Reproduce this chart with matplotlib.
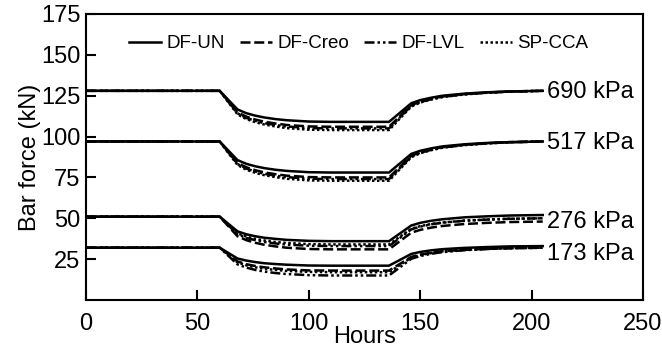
import matplotlib
matplotlib.use("Agg")
import matplotlib.pyplot as plt

plt.rcParams['font.family'] = ['Liberation Sans', 'DejaVu Sans']

hours = [0, 60, 64, 68, 72, 76, 80, 85, 90, 100, 110, 136, 141, 146, 150, 155, 160, 170, 180, 190, 205]

series_names = ["DF-UN", "DF-Creo", "DF-LVL", "SP-CCA"]
pressure_labels = ["690 kPa", "517 kPa", "276 kPa", "173 kPa"]

# 690 kPa
p690_un   = [128, 128, 122.3, 116.6, 114.3, 112.8, 111.7, 110.7, 110.0, 109.2, 109, 109, 114.7, 120.4, 122.3, 123.8, 125.0, 126.3, 127.1, 127.6, 128]
p690_creo = [128, 128, 121.4, 114.8, 112.2, 110.4, 109.1, 108.0, 107.1, 106.2, 106, 106, 112.6, 119.2, 121.4, 123.2, 124.5, 126.0, 126.9, 127.6, 128]
p690_lvl  = [128, 128, 121.1, 114.2, 111.4, 109.6, 108.2, 107.1, 106.2, 105.2, 105, 105, 111.9, 118.8, 121.1, 122.9, 124.3, 125.9, 126.9, 127.5, 128]
p690_cca  = [128, 128, 120.8, 113.6, 110.7, 108.8, 107.4, 106.2, 105.2, 104.2, 104, 104, 111.2, 118.4, 120.8, 122.7, 124.2, 125.8, 126.8, 127.5, 128]

# 517 kPa
p517_un   = [97, 97, 91.3, 85.6, 83.3, 81.8, 80.7, 79.7, 79.0, 78.2, 78, 78, 83.7, 89.4, 91.3, 92.8, 94.0, 95.3, 96.1, 96.6, 97]
p517_creo = [97, 97, 90.4, 83.8, 81.2, 79.4, 78.1, 77.0, 76.1, 75.2, 75, 75, 81.6, 88.2, 90.4, 92.2, 93.5, 95.0, 95.9, 96.6, 97]
p517_lvl  = [97, 97, 90.1, 83.2, 80.4, 78.6, 77.2, 76.1, 75.2, 74.2, 74, 74, 80.9, 87.8, 90.1, 91.9, 93.3, 94.9, 95.9, 96.5, 97]
p517_cca  = [97, 97, 89.8, 82.6, 79.7, 77.8, 76.4, 75.2, 74.2, 73.2, 73, 73, 80.2, 87.4, 89.8, 91.7, 93.2, 94.8, 95.8, 96.5, 97]

# 276 kPa
p276_un   = [51, 51, 46.5, 42.0, 40.2, 39.0, 38.1, 37.4, 36.8, 36.2, 36, 36, 40.8, 45.6, 47.2, 48.5, 49.4, 50.6, 51.2, 51.7, 52]
p276_creo = [51, 51, 45.0, 39.0, 36.6, 35.0, 33.8, 32.8, 32.0, 31.2, 31, 31, 36.1, 41.2, 42.9, 44.3, 45.3, 46.5, 47.2, 47.7, 48]
p276_lvl  = [51, 51, 45.6, 40.2, 38.0, 36.6, 35.5, 34.6, 33.9, 33.2, 33, 33, 38.1, 43.2, 44.9, 46.3, 47.3, 48.5, 49.2, 49.7, 50]
p276_cca  = [51, 51, 45.9, 40.8, 38.8, 37.4, 36.4, 35.5, 34.9, 34.2, 34, 34, 38.8, 43.6, 45.2, 46.5, 47.4, 48.6, 49.2, 49.7, 50]

# 173 kPa
p173_un   = [32, 32, 28.7, 25.4, 24.1, 23.2, 22.5, 22.0, 21.6, 21.1, 21, 21, 24.6, 28.2, 29.4, 30.4, 31.1, 31.9, 32.4, 32.8, 33]
p173_creo = [32, 32, 27.8, 23.6, 21.9, 20.8, 20.0, 19.3, 18.7, 18.1, 18, 18, 22.2, 26.4, 27.8, 28.9, 29.8, 30.7, 31.3, 31.7, 32]
p173_lvl  = [32, 32, 26.9, 21.8, 19.8, 18.4, 17.4, 16.5, 15.9, 15.2, 15, 15, 20.1, 25.2, 26.9, 28.3, 29.3, 30.5, 31.2, 31.7, 32]
p173_cca  = [32, 32, 27.5, 23.0, 21.2, 20.0, 19.1, 18.4, 17.8, 17.2, 17, 17, 21.5, 26.0, 27.5, 28.7, 29.6, 30.7, 31.3, 31.7, 32]

groups = [
    [p690_un, p690_creo, p690_lvl, p690_cca],
    [p517_un, p517_creo, p517_lvl, p517_cca],
    [p276_un, p276_creo, p276_lvl, p276_cca],
    [p173_un, p173_creo, p173_lvl, p173_cca],
]
label_y = [127.5, 96, 47.5, 28]

x_ticks = [0, 50, 100, 150, 200, 250]
y_ticks = [25, 50, 75, 100, 125, 150, 175]

styles = [
    dict(linestyle='-'),
    dict(linestyle=(0, (4, 1.5))),
    dict(linestyle=(0, (4, 1.2, 1, 1.2, 1, 1.2))),
    dict(linestyle=(0, (1, 1))),
]

fig = plt.figure(figsize=(6.62, 3.49), dpi=100)
ax = fig.add_axes([86/662, 1-300/349, (643-86)/662, (300-14)/349])

for gi, grp in enumerate(groups):
    for si, vals in enumerate(grp):
        ax.plot(hours, vals, color='black', lw=1.8,
                label=series_names[si] if gi == 0 else None, **styles[si])
    ax.text(207, label_y[gi], pressure_labels[gi], fontsize=17,
            va='center', ha='left')

ax.set_xlim(0, 250)
ax.set_ylim(0, 175)
ax.set_xticks(x_ticks)
ax.set_yticks(y_ticks)
ax.tick_params(direction='in', length=7, width=1.5, labelsize=17)
ax.tick_params(axis='x', pad=9)
ax.tick_params(axis='y', pad=4)
for s in ax.spines.values():
    s.set_linewidth(1.5)

ax.set_ylabel("Bar force (kN)", fontsize=17, labelpad=0)
ax.set_xlabel("Hours", fontsize=17, labelpad=-6)

ax.legend(loc='upper center', ncol=4, frameon=False, fontsize=13.5,
          handlelength=1.7, handletextpad=0.3, columnspacing=0.8,
          bbox_to_anchor=(0.49, 0.985))

fig.savefig("out.png", dpi=100)
